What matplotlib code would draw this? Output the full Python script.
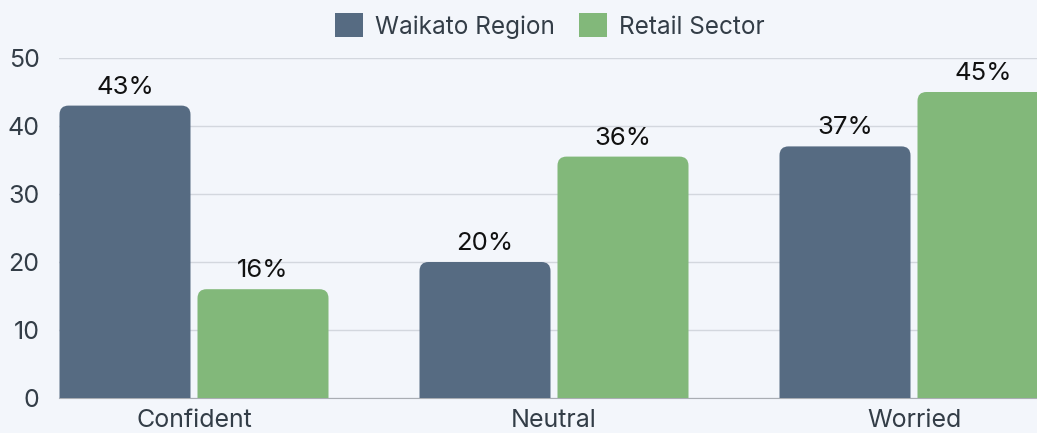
import matplotlib.pyplot as plt
from matplotlib.patches import FancyBboxPatch, Patch
import numpy as np

categories = ['Confident', 'Neutral', 'Worried']
waikato = [43, 20, 37]
retail = [16, 35.5, 45]
waikato_labels = ['43%', '20%', '37%']
retail_labels = ['16%', '36%', '45%']
series_names = ['Waikato Region', 'Retail Sector']
yticks = [0, 10, 20, 30, 40, 50]

bg = '#f3f6fb'
c_waikato = '#566b82'
c_retail = '#82b87a'
txt = '#333d47'

plt.rcParams['font.family'] = ['Inter', 'DejaVu Sans']

fig = plt.figure(figsize=(10.37, 4.33), dpi=100, facecolor=bg)
ax = fig.add_axes([59 / 1037, 35 / 433, 978 / 1037, 340 / 433])
ax.set_facecolor(bg)

x = np.arange(len(categories))
w = 131 / 360
off = 69 / 360

bars1 = ax.bar(x - off, waikato, w, color=c_waikato)
bars2 = ax.bar(x + off, retail, w, color=c_retail)

ax.set_xlim(-135 / 360, 2 + 123 / 360)
ax.set_ylim(0, 50)

# swap plain rectangles for ones with rounded tops
rx = 9 / 360
aspect = 360 / 6.8
for bars in (bars1, bars2):
    for b in bars:
        b.set_visible(False)
        bx, bw, bh = b.get_x(), b.get_width(), b.get_height()
        p = FancyBboxPatch((bx, -3), bw, bh + 3,
                           boxstyle=f'round,pad=0,rounding_size={rx}',
                           mutation_aspect=aspect, facecolor=b.get_facecolor(),
                           edgecolor='none', zorder=3)
        ax.add_patch(p)

for bars, labels in ((bars1, waikato_labels), (bars2, retail_labels)):
    for b, lab in zip(bars, labels):
        ax.annotate(lab, (b.get_x() + b.get_width() / 2, b.get_height()),
                    xytext=(0, 5), textcoords='offset points',
                    ha='center', va='bottom', fontsize=18.5, color='#111111',
                    zorder=4, annotation_clip=False)

ax.set_yticks(yticks)
ax.set_xticks(x)
ax.set_xticklabels(categories)
ax.tick_params(axis='y', length=0, pad=14, labelsize=18, labelcolor=txt)
ax.tick_params(axis='x', length=0, pad=8, labelsize=18, labelcolor=txt)
ax.grid(axis='y', color='#d3d7de', linewidth=1)
ax.set_axisbelow(True)
for s in ['top', 'right', 'left']:
    ax.spines[s].set_visible(False)
ax.spines['bottom'].set_color('#a9adb3')
ax.spines['bottom'].set_zorder(2)

handles = [Patch(facecolor=c_waikato), Patch(facecolor=c_retail)]
fig.legend(handles, series_names, loc='center', bbox_to_anchor=(550 / 1037, 1 - 26 / 433),
           ncol=2, frameon=False, fontsize=17.5, handlelength=1.15, handleheight=1.15,
           handletextpad=0.5, columnspacing=1.0, labelcolor=txt)

fig.savefig('out.png', dpi=100, facecolor=bg)
